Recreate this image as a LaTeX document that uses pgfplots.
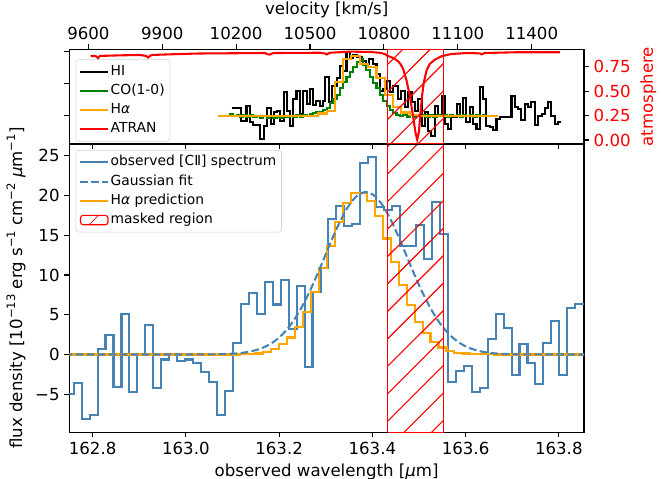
\documentclass[border=0pt]{standalone}
\usepackage{fontspec}
\setmainfont{DejaVu Sans}
\usepackage{pgfplots}
\pgfplotsset{compat=1.18}
\definecolor{cblue}{HTML}{4682B4}
\definecolor{corange}{HTML}{FFA500}
\definecolor{cgreen}{HTML}{008000}
\definecolor{cred}{HTML}{FF0000}
\newcommand{\sups}[1]{\raisebox{0.42em}{\fontsize{8.4}{9}\selectfont #1}}
\pgfplotsset{
  boxlegend/.style={legend image code/.code={%
    \draw[cred, line width=0.6pt] (0.22cm,-0.12cm) -- (0.46cm,0.12cm);
    \draw[cred, line width=0.8pt] (0cm,-0.12cm) rectangle (0.7cm,0.12cm);}},
  mpl/.style={
    scale only axis, width=5.147in, anchor=south west,
    tick align=outside, major tick length=3.5pt,
    every tick/.style={black, line width=0.8pt},
    axis line style={line width=0.8pt},
    scaled x ticks=false, scaled y ticks=false,
    unbounded coords=jump,
    /pgf/number format/assume math mode=true,
    tick label style={font=\fontsize{12}{14.4}\selectfont},
    label style={font=\fontsize{12}{14.4}\selectfont},
    legend cell align=left,
    legend image code/.code={\draw[##1] (0cm,0cm) -- (0.7cm,0cm);},
    legend style={draw=black!18, rounded corners=2pt, fill=white, fill opacity=0.8, text opacity=1,
      anchor=north west, inner sep=2.5pt, row sep=1.5pt, font=\fontsize{10}{12}\selectfont,
      nodes={inner sep=1.2pt, text height=7.5pt, text depth=2.5pt}},
  },
}
\begin{document}
\begin{tikzpicture}
\path[use as bounding box] (0,0) rectangle (6.62in,4.79in);

% ---------------- bottom panel ----------------
\begin{axis}[mpl, at={(0.693in,0.467in)}, height=2.883in,
  xmin=162.75, xmax=163.854, ymin=-9.8, ymax=26.5,
  xtick={162.8,163.0,163.2,163.4,163.6,163.8},
  xticklabels={162.8,163.0,163.2,163.4,163.6,163.8},
  ytick={-5,0,5,10,15,20,25}, yticklabels={−5,0,5,10,15,20,25},
  xtick pos=left, ytick pos=left,
  xlabel={observed wavelength [{\itshape μ}m]},
  ylabel={flux density [10\sups{−13} erg s\sups{−1} cm\sups{−2} {\itshape μ}m\sups{−1}]},
  legend style={at={(0.0124,0.979)}},
]
\addplot[cblue, line width=1.5pt, const plot, forget plot] coordinates {
(162.74,-5.03) (162.7594,-3.57) (162.7765,-8.14) (162.7936,-7.64) (162.8106,0.67)
(162.8277,2.43) (162.8448,-4.07) (162.8619,5.07) (162.8789,-4.70) (162.8960,0.05)
(162.9131,3.68) (162.9302,-4.20) (162.9472,-0.63) (162.9643,0.05) (162.9814,-0.84)
(162.9985,-0.63) (163.0156,-1.13) (163.0326,-2.26) (163.0497,-3.52) (163.0668,-7.64)
(163.0839,-4.62) (163.1009,1.50) (163.1180,6.41) (163.1351,7.75) (163.1522,5.07)
(163.1692,9.13) (163.1863,6.29) (163.2034,9.35) (163.2205,3.18) (163.2375,8.63)
(163.2546,-1.56) (163.2717,7.85) (163.2888,10.9) (163.3058,17.02) (163.3229,18.70)
(163.3400,16.14) (163.3571,16.47) (163.3742,24.10) (163.3912,24.86) (163.4083,18.57)
(163.4254,18.24) (163.4425,18.70) (163.4595,13.62) (163.4766,13.62) (163.4937,16.26)
(163.5108,12.07) (163.5278,19.20) (163.5449,15.22) (163.5620,-3.44) (163.5791,-2.06)
(163.5961,-1.47) (163.6132,-4.70) (163.6303,-4.28) (163.6474,1.89) (163.6645,5.07)
(163.6815,3.35) (163.6986,-2.60) (163.7157,1.30) (163.7328,-1.13) (163.7498,-3.77)
(163.7669,1.50) (163.7840,4.19) (163.8011,-2.60) (163.8181,5.87) (163.8352,6.41)
(163.8523,6.41) (163.86,6.41)
};
\addplot[corange, line width=1.5pt, const plot, forget plot] coordinates {
(162.74,0) (163.1150,0.04) (163.1321,0.08) (163.1492,0.12) (163.1662,0.30)
(163.1833,0.68) (163.2004,1.33) (163.2175,2.14) (163.2345,3.50) (163.2516,5.30)
(163.2687,7.85) (163.2858,10.90) (163.3028,13.70) (163.3199,16.70) (163.3370,19.10)
(163.3541,20.35) (163.3712,20.35) (163.3882,19.35) (163.4053,17.40) (163.4224,14.60)
(163.4395,11.70) (163.4565,8.72) (163.4736,6.20) (163.4907,4.12) (163.5078,2.70)
(163.5248,1.58) (163.5419,0.88) (163.5590,0.45) (163.5761,0.22) (163.5931,0.12)
(163.6102,0.07) (163.6273,0.04) (163.6444,0.02) (163.6615,0) (163.86,0)
};
\addplot[cblue, line width=1.5pt, dash pattern=on 5.55pt off 2.4pt, smooth, forget plot] coordinates {
(162.74,0) (162.90,0) (163.006,0) (163.026,0.004) (163.046,0.01) (163.066,0.026)
(163.086,0.057) (163.106,0.12) (163.126,0.25) (163.146,0.48) (163.166,0.87)
(163.186,1.50) (163.206,2.46) (163.226,3.84) (163.246,5.69) (163.266,7.99)
(163.286,10.64) (163.306,13.46) (163.326,16.17) (163.346,18.42) (163.366,19.92)
(163.386,20.45) (163.406,19.92) (163.426,18.42) (163.446,16.17) (163.466,13.46)
(163.486,10.64) (163.506,7.99) (163.526,5.69) (163.546,3.84) (163.566,2.46)
(163.586,1.50) (163.606,0.87) (163.626,0.48) (163.646,0.25) (163.666,0.12)
(163.686,0.057) (163.706,0.026) (163.726,0.01) (163.746,0.004) (163.766,0)
(163.80,0) (163.86,0)
};
% masked region: hatch lines and outline
\addplot[cred, line width=0.8pt, forget plot] coordinates {
(163.433,-15.32) (163.553,-8.28) (163.5,nan)
(163.433,-11.86) (163.553,-4.82) (163.5,nan)
(163.433,-8.40) (163.553,-1.36) (163.5,nan)
(163.433,-4.94) (163.553,2.10) (163.5,nan)
(163.433,-1.48) (163.553,5.56) (163.5,nan)
(163.433,1.98) (163.553,9.02) (163.5,nan)
(163.433,5.44) (163.553,12.48) (163.5,nan)
(163.433,8.90) (163.553,15.94) (163.5,nan)
(163.433,12.36) (163.553,19.40) (163.5,nan)
(163.433,15.82) (163.553,22.86) (163.5,nan)
(163.433,19.28) (163.553,26.32) (163.5,nan)
(163.433,22.74) (163.553,29.78) (163.5,nan)
(163.433,26.20) (163.553,33.24)
};
\addplot[cred, line width=0.8pt, forget plot] coordinates {
(163.433,-9.8) (163.433,26.5) (163.553,26.5) (163.553,-9.8) (163.433,-9.8)};
\addlegendimage{cblue, line width=1.5pt}
\addlegendentry{observed [CⅡ] spectrum}
\addlegendimage{cblue, line width=1.5pt, dash pattern=on 5.55pt off 2.4pt}
\addlegendentry{Gaussian fit}
\addlegendimage{corange, line width=1.5pt}
\addlegendentry{H{\itshape α} prediction}
\addlegendimage{boxlegend}
\addlegendentry{masked region}
\end{axis}

% ---------------- top panel: spectra ----------------
\begin{axis}[mpl, at={(0.693in,3.35in)}, height=0.947in,
  xmin=9522.5, xmax=11612.4, ymin=-0.876, ymax=2.056,
  xtick={9600,9900,10200,10500,10800,11100,11400},
  xticklabels={9600,9900,10200,10500,10800,11100,11400},
  xtick pos=right, xticklabel pos=right,
  xlabel={velocity [km/s]},
  ytick={0,1,2}, yticklabels={}, ytick pos=left,
  legend style={at={(0.0124,0.894)}},
]
\addplot[black, line width=1.5pt, const plot, forget plot] coordinates {
(10181.5,0.229) (10218,-0.155) (10242,0.310) (10256,-0.204) (10269,-0.288) (10296,-0.721)
(10313,-0.310) (10324,0.229) (10340,-0.257) (10353,0.105) (10367,0.155) (10378,-0.155)
(10394,0.743) (10407,0.155) (10418,-0.310) (10429,0.517) (10445,0.774) (10459,0.053)
(10472,0.774) (10486,0.362) (10499,0.827) (10513,0.331) (10526,0.464) (10540,0.310)
(10551,0.464) (10561,1.189) (10578,0.415) (10591,0.929) (10608,1.158) (10621,1.548)
(10634,1.393) (10648,1.963) (10662,1.777) (10675,1.879) (10689,1.808) (10709,1.703)
(10729,1.601) (10740,1.755) (10754,1.601) (10770,1.291) (10783,0.774) (10797,0.827)
(10810,1.084) (10824,0.724) (10837,0.929) (10858,0.517) (10871,0.774) (10885,0.260)
(10898,0.724) (10912,0.415) (10925,0.155) (10939,0.517) (10953,-0.310) (10966,0.105)
(10979,-0.464) (10993,-0.638) (11007,0.310) (11020,0) (11034,0.619) (11047,-0.257)
(11061,-0.412) (11074,-0.050) (11095,0.362) (11108,0) (11121,0.539) (11135,-0.204)
(11149,0.260) (11162,-0.257) (11176,-0.412) (11189,0.879) (11203,0.517) (11216,-0.310)
(11230,-0.359) (11243,-0.443) (11257,-0.102) (11270,-0.050) (11318,0.619) (11331,0.260)
(11345,0.207) (11358,-0.124) (11372,0.362) (11385,0.260) (11399,0.415) (11412,-0.288)
(11426,0) (11440,0.053) (11453,0.229) (11466,0.433) (11480,0) (11494,-0.257)
(11507,-0.186) (11517,-0.186)
};
\addplot[cgreen, line width=1.5pt, const plot, forget plot] coordinates {
(10161,0) (10175,0.037) (10188,-0.009) (10202,0.022) (10215,-0.025) (10229,0.022)
(10242,-0.025) (10256,0.006) (10269,-0.040) (10283,-0.009) (10296,-0.056) (10310,-0.009)
(10324,-0.056) (10337,-0.009) (10351,-0.056) (10364,-0.025) (10378,-0.056) (10391,-0.025)
(10405,-0.040) (10418,-0.009) (10432,-0.040) (10445,0.006) (10459,-0.025) (10472,0.022)
(10486,-0.009) (10499,0.037) (10513,0.084) (10526,0.115) (10540,0.099) (10554,0.176)
(10567,0.238) (10581,0.393) (10594,0.517) (10608,0.641) (10621,0.858) (10635,1.043)
(10648,1.198) (10662,1.353) (10675,1.508) (10689,1.663) (10702,1.740) (10716,1.570)
(10729,1.415) (10743,1.198) (10756,1.012) (10770,0.858) (10784,0.641) (10797,0.455)
(10811,0.300) (10824,0.176) (10838,0.084) (10851,0.022) (10865,-0.009) (10878,0.022)
(10892,-0.025) (10905,0.022) (10919,-0.025) (10932,0.022) (10946,-0.009) (10959,0.022)
(10973,-0.025) (10986,0.022) (11000,-0.025) (11014,0.006) (11027,-0.009) (11041,0.022)
(11054,-0.025) (11068,0.006) (11081,-0.009) (11095,0.022) (11108,-0.025) (11122,0.006)
(11135,-0.009) (11149,0.022) (11162,-0.025) (11176,0.006) (11189,-0.009) (11203,0.006)
(11216,0.006)
};
\addplot[corange, line width=1.5pt, const plot, forget plot] coordinates {
(10127,0) (10533,0.068) (10567,0.146) (10601,1.043) (10634,1.755) (10668,1.848)
(10702,1.601) (10736,1.508) (10770,1.167) (10804,0.641) (10837,0.269) (10871,0.099)
(10905,0.022) (10939,0) (11262,0)
};
\addlegendimage{black, line width=1.5pt}
\addlegendentry{HⅠ}
\addlegendimage{cgreen, line width=1.5pt}
\addlegendentry{CO(1-0)}
\addlegendimage{corange, line width=1.5pt}
\addlegendentry{H{\itshape α}}
\addlegendimage{cred, line width=1.5pt}
\addlegendentry{ATRAN}
\end{axis}

% ---------------- top panel: atmosphere ----------------
\begin{axis}[mpl, at={(0.693in,3.35in)}, height=0.947in,
  xmin=9522.5, xmax=11612.4, ymin=-0.041, ymax=0.928,
  hide x axis, axis y line*=right,
  ytick={0,0.25,0.5,0.75}, yticklabels={0.00,0.25,0.50,0.75},
  yticklabel style={text=cred},
  ylabel={atmosphere}, ylabel style={text=cred},
]
\addplot[cred, line width=1.5pt] coordinates {
(9609,0.860) (9630,0.858) (9639,0.838) (9647,0.860) (9728,0.866) (9809,0.870)
(9834,0.860) (9842,0.844) (9850,0.860) (9858,0.870) (9951,0.878) (10053,0.885)
(10215,0.888) (10317,0.890) (10329,0.876) (10337,0.874) (10349,0.888) (10357,0.890)
(10459,0.891) (10540,0.893) (10560,0.885) (10568,0.875) (10576,0.888) (10584,0.893)
(10662,0.904) (10743,0.901) (10783,0.892) (10804,0.880) (10812,0.863) (10831,0.846)
(10844,0.830) (10856,0.809) (10867,0.778) (10878,0.727) (10892,0.607) (10905,0.453)
(10918,0.249) (10928,0.079) (10935,0.003) (10942,0.079) (10948,0.266) (10955,0.453)
(10962,0.591) (10973,0.709) (10986,0.778) (11007,0.822) (11034,0.857) (11074,0.880)
(11142,0.890) (11189,0.886) (11196,0.876) (11205,0.886) (11209,0.890) (11345,0.898)
(11514,0.898)
};
\end{axis}

% ---------------- top panel: wavelength ticks and mask ----------------
\begin{axis}[mpl, at={(0.693in,3.35in)}, height=0.947in,
  xmin=162.75, xmax=163.854, ymin=0, ymax=1,
  hide y axis, axis x line*=bottom,
  xtick={162.8,163.0,163.2,163.4,163.6,163.8}, xticklabels={},
]
\addplot[cred, line width=0.8pt] coordinates {
(163.433,-0.609) (163.553,-0.018) (163.5,nan)
(163.433,-0.319) (163.553,0.272) (163.5,nan)
(163.433,-0.029) (163.553,0.562) (163.5,nan)
(163.433,0.261) (163.553,0.852) (163.5,nan)
(163.433,0.551) (163.553,1.142) (163.5,nan)
(163.433,0.841) (163.553,1.432)
};
\addplot[cred, line width=0.8pt] coordinates {
(163.433,0) (163.433,1) (163.553,1) (163.553,0) (163.433,0)};
\end{axis}
\end{tikzpicture}
\end{document}
